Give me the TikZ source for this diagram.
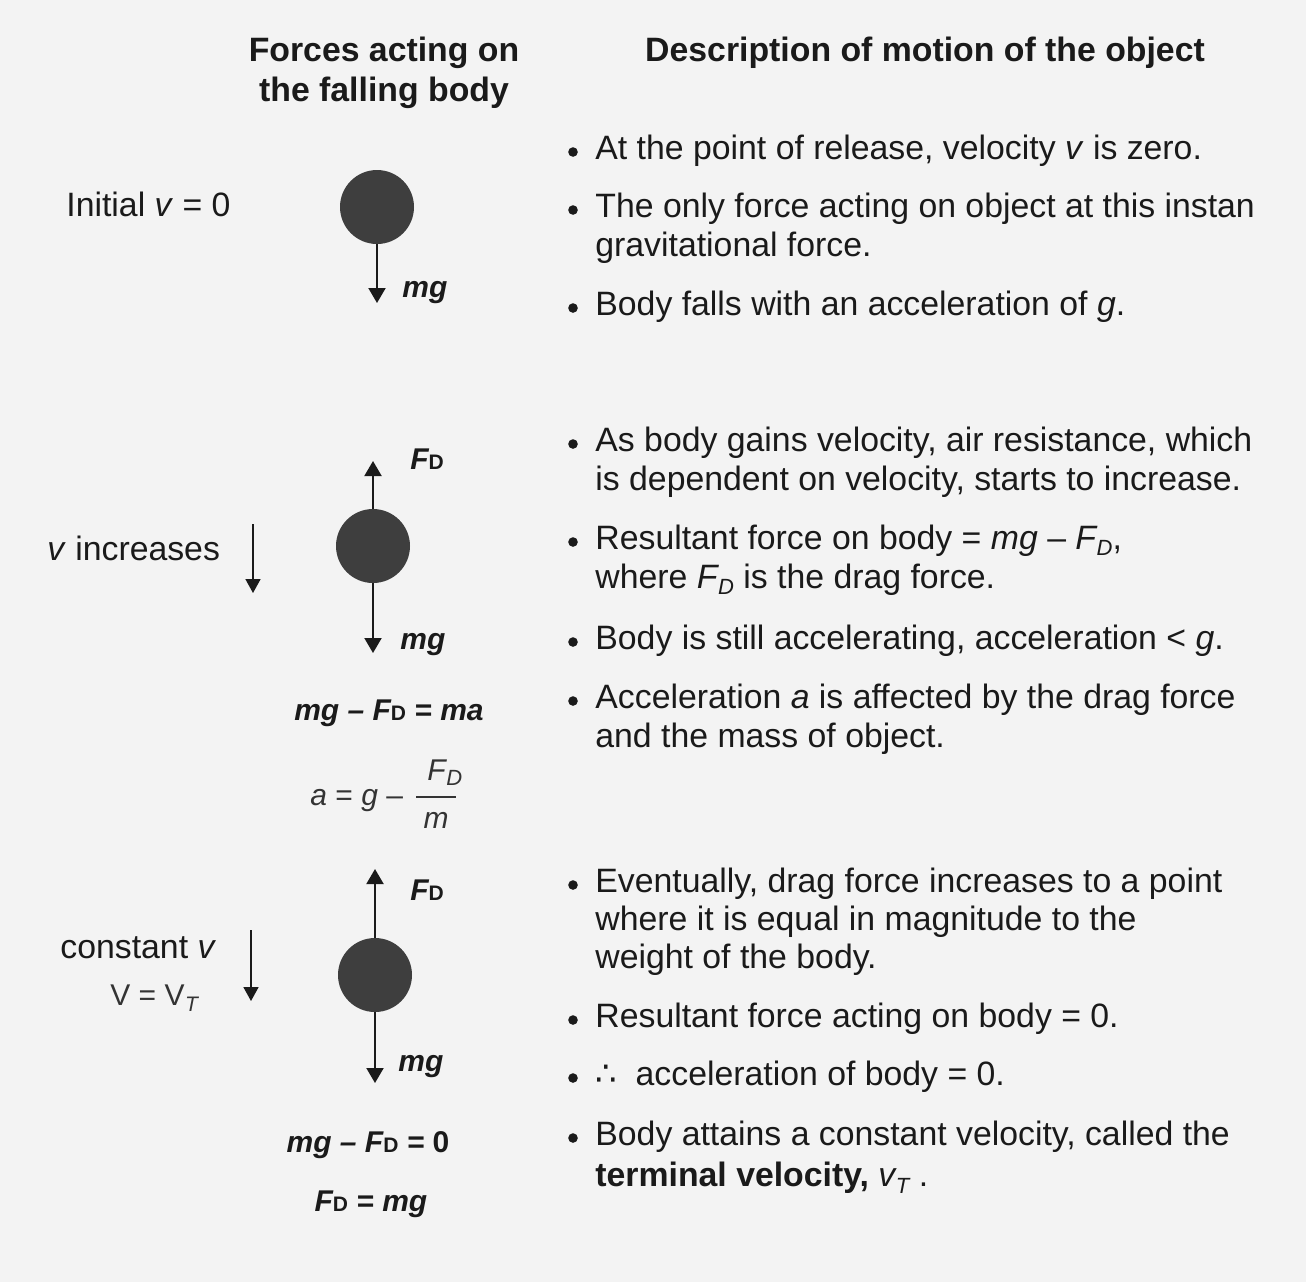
\documentclass[tikz,border=0pt]{standalone}
\usepackage{fontspec}
\setmainfont{Liberation Sans}
\newfontfamily\symfont{DejaVu Sans}
\usetikzlibrary{arrows.meta}
\definecolor{bg}{HTML}{F3F3F3}
\definecolor{ink}{HTML}{1A1A1A}
\definecolor{soft}{HTML}{333333}
\definecolor{ballc}{HTML}{3E3E3E}
\newcommand{\FDb}{\textit{F}{\upshape\fontsize{10.5}{10.5}\selectfont D}}
\newcommand{\FDi}{\textit{F\kern0.3pt\raisebox{-0.35ex}{\fontsize{11}{11}\selectfont D}}}
\newcommand{\vT}{\textit{v\kern0.3pt\raisebox{-0.4ex}{\fontsize{11}{11}\selectfont T}}}
\tikzset{
  txt/.style={inner sep=0pt, anchor=base west, text=ink, font=\fontsize{16.9}{19}\selectfont},
  headtxt/.style={inner sep=0pt, anchor=base, text=ink, font=\fontsize{16.9}{19}\selectfont\bfseries},
  lbl/.style={inner sep=0pt, anchor=base west, text=ink, font=\fontsize{15}{18}\selectfont\bfseries\itshape},
  eqn/.style={inner sep=0pt, anchor=base, text=ink, font=\fontsize{15}{18}\selectfont\bfseries\itshape},
  frac/.style={inner sep=0pt, text=soft, font=\fontsize{15}{18}\selectfont},
  ball/.style={circle, fill=ballc, minimum size=37pt, inner sep=0pt},
  force/.style={draw=ink, line width=1pt, -{Triangle[length=7.5pt,width=8.5pt]}},
  vel/.style={draw=ink, line width=0.8pt, -{Triangle[length=7pt,width=7.5pt]}},
  bul/.style={circle, fill=ink, minimum size=4.8pt, inner sep=0pt},
}
\begin{document}
\begin{tikzpicture}[x=0.5pt,y=-0.5pt]
\fill[bg] (0,0) rectangle (1306,1282);
\useasboundingbox (0,0) rectangle (1306,1282);

% headers
\node[headtxt] (h1) at (384,61) {Forces acting on};
\node[headtxt] (h2) at (384,101) {the falling body};
\node[headtxt] (h3) at (925,61) {Description of motion of the object};

% ---------- stage 1 ----------
\node[txt] (l1) at (66,216) {Initial \textit{v} = 0};
\node[ball] (b1) at (377,207) {};
\coordinate (b1d) at (377,303);
\draw[force] (b1.south) -- (b1d);
\node[lbl] (mg1) at (402,297) {mg};

% ---------- stage 2 ----------
\node[txt] (l2) at (47,560) {\textit{v} increases};
\coordinate (v2a) at (253,524);
\coordinate (v2b) at (253,593);
\draw[vel] (v2a) -- (v2b);
\node[ball] (b2) at (373,546) {};
\coordinate (b2u) at (373,461);
\coordinate (b2d) at (373,653);
\draw[force] (b2.north) -- (b2u);
\draw[force] (b2.south) -- (b2d);
\node[lbl] (fd2) at (410,469) {\FDb};
\node[lbl] (mg2) at (400,649) {mg};
\node[eqn] (e21) at (389,720) {mg – \FDb\ = ma};
\node[frac, anchor=base west] (e22) at (310,805) {\textit{a} = \textit{g} –};
\node[frac, anchor=base west] (e22n) at (427,780) {\FDi};
\node[frac, anchor=base] (e22d) at (436,828) {\textit{m}};
\coordinate (fb1) at (416,797);
\coordinate (fb2) at (456,797);
\draw[soft, line width=0.7pt] (fb1) -- (fb2);

% ---------- stage 3 ----------
\node[txt] (l3) at (60,958) {constant \textit{v}};
\node[txt, text=soft, font=\fontsize{15}{18}\selectfont] (l4) at (110,1005) {V = V\kern0.3pt\raisebox{-0.4ex}{\fontsize{10.5}{10.5}\selectfont\itshape T}};
\coordinate (v3a) at (251,930);
\coordinate (v3b) at (251,1001);
\draw[vel] (v3a) -- (v3b);
\node[ball] (b3) at (375,975) {};
\coordinate (b3u) at (375,869);
\coordinate (b3d) at (375,1083);
\draw[force] (b3.north) -- (b3u);
\draw[force] (b3.south) -- (b3d);
\node[lbl] (fd3) at (410,900) {\FDb};
\node[lbl] (mg3) at (398,1071) {mg};
\node[eqn] (e31) at (368,1152) {mg – \FDb\ = \textup{0}};
\node[eqn] (e32) at (371,1211) {\FDb\ = mg};

% ---------- right column ----------
\node[bul] (p1) at (573,152) {};
\node[txt] (t1) at (595,159) {At the point of release, velocity \textit{v} is zero.};
\node[bul] (p2) at (573,210) {};
\node[txt] (t2a) at (595,217) {The only force acting on object at this instan};
\node[txt] (t2b) at (595,256) {gravitational force.};
\node[bul] (p3) at (573,308) {};
\node[txt] (t3) at (595,315) {Body falls with an acceleration of \textit{g}.};

\node[bul] (p4) at (573,444) {};
\node[txt] (t4a) at (595,451) {As body gains velocity, air resistance, which};
\node[txt] (t4b) at (595,490) {is dependent on velocity, starts to increase.};
\node[bul] (p5) at (573,542) {};
\node[txt] (t5a) at (595,549) {Resultant force on body = \textit{mg} – \FDi,};
\node[txt] (t5b) at (595,588) {where \FDi\ is the drag force.};
\node[bul] (p6) at (573,642) {};
\node[txt] (t6) at (595,649) {Body is still accelerating, acceleration < \textit{g}.};
\node[bul] (p7) at (573,701) {};
\node[txt] (t7a) at (595,708) {Acceleration \textit{a} is affected by the drag force};
\node[txt] (t7b) at (595,747) {and the mass of object.};

\node[bul] (p8) at (573,885) {};
\node[txt] (t8a) at (595,892) {Eventually, drag force increases to a point};
\node[txt] (t8b) at (595,930) {where it is equal in magnitude to the};
\node[txt] (t8c) at (595,968) {weight of the body.};
\node[bul] (p9) at (573,1020) {};
\node[txt] (t9) at (595,1027) {Resultant force acting on body = 0.};
\node[bul] (p10) at (573,1078) {};
\node[txt] (t10) at (595,1085) {{\symfont ∴}\ \ acceleration of body = 0.};
\node[bul] (p11) at (573,1138) {};
\node[txt] (t11a) at (595,1145) {Body attains a constant velocity, called the};
\node[txt] (t11b) at (595,1186) {\textbf{terminal velocity,} \vT\ .};
\end{tikzpicture}
\end{document}
